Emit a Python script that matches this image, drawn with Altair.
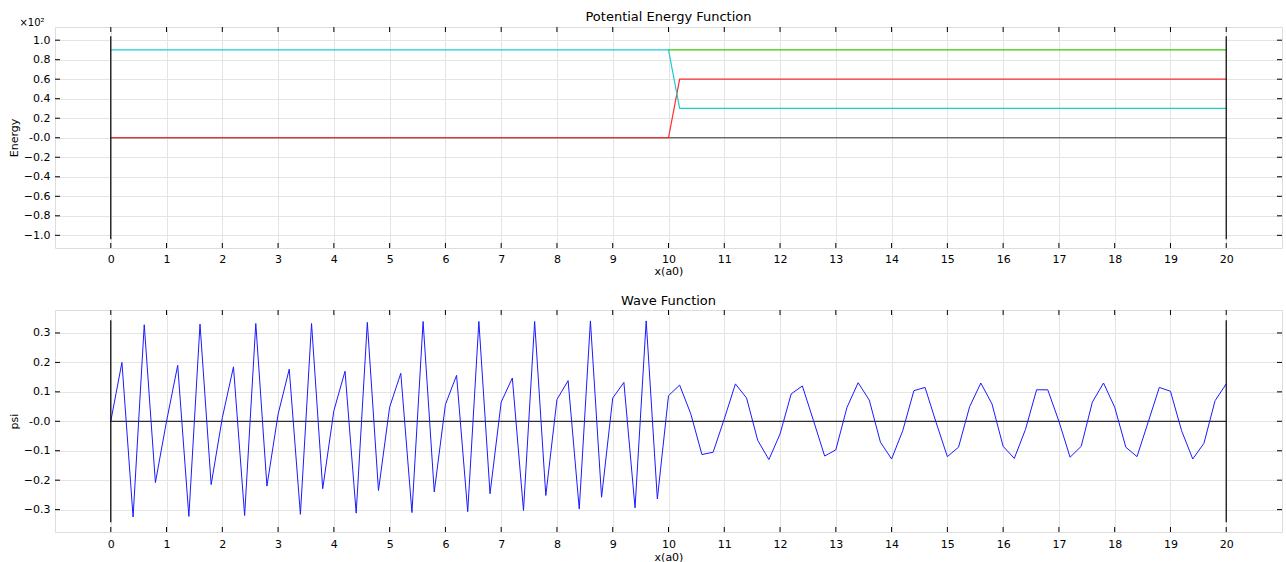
import altair as alt
import pandas as pd

FONT = "DejaVu Sans"
W, H_TOP, H_BOT = 1227, 221, 222

# ---- potential energy curves (energy in units of 10^2) ----
step_x = [0, 10, 10.2, 20]
cyan_e = [0.9, 0.9, 0.3, 0.3]
red_e = [0.0, 0.0, 0.6, 0.6]
green_x = [10, 20]
green_e = [0.9, 0.9]
zero_x = [0, 20]
zero_e = [0.0, 0.0]
wall_x = [0, 20]

# ---- wave function samples ----
psi = [
    0.00, 0.20, -0.325, 0.328, -0.208,
    0.00, 0.19, -0.323, 0.33, -0.215,
    0.012, 0.185, -0.32, 0.332, -0.22,
    0.024, 0.177, -0.316, 0.332, -0.229,
    0.036, 0.17, -0.312, 0.336, -0.235,
    0.048, 0.163, -0.31, 0.339, -0.24,
    0.057, 0.156, -0.307, 0.339, -0.246,
    0.065, 0.147, -0.303, 0.339, -0.252,
    0.074, 0.138, -0.298, 0.341, -0.258,
    0.079, 0.132, -0.294, 0.341, -0.264,
    0.087, 0.123, 0.025, -0.113, -0.105,
    0.008, 0.127, 0.079, -0.065, -0.13,
    -0.043, 0.093, 0.12, 0.002, -0.118,
    -0.097, 0.047, 0.131, 0.072, -0.071,
    -0.128, -0.032, 0.104, 0.115, -0.005,
    -0.12, -0.088, 0.05, 0.13, 0.059,
    -0.085, -0.126, -0.028, 0.107, 0.107,
    0.0, -0.122, -0.085, 0.065, 0.13,
    0.048, -0.088, -0.12, -0.003, 0.115,
    0.102, -0.032, -0.128, -0.075, 0.07,
    0.127,
]
psi_x = [round(0.2 * i, 1) for i in range(len(psi))]

# ---- tick values ----
x_ticks = list(range(0, 21))
e_ticks = [-1.0, -0.8, -0.6, -0.4, -0.2, 0.0, 0.2, 0.4, 0.6, 0.8, 1.0]
psi_ticks = [-0.3, -0.2, -0.1, 0.0, 0.1, 0.2, 0.3]

label_expr = "datum.value == 0 ? '-0.0' : format(datum.value, '.1f')"

x_scale = alt.Scale(domain=[-1, 21], nice=False, zero=False)

AXIS_STYLE = dict(ticks=False, domain=False, gridColor="#e4e4e4",
                  labelFont=FONT, labelFontSize=11, labelColor="black",
                  labelOverlap=False, labelBound=False, labelFlush=False,
                  titleFont=FONT, titleFontSize=11, titleColor="black",
                  titleFontWeight="normal")


def x_axis(label_pad, title_pad):
    return alt.Axis(values=x_ticks, title="x(a0)", format="d",
                    labelPadding=label_pad, titlePadding=title_pad, **AXIS_STYLE)


def y_axis(ticks, title):
    return alt.Axis(values=ticks, title=title, labelExpr=label_expr,
                    labelPadding=5, titlePadding=4, **AXIS_STYLE)


def xs(axis):
    return alt.X("x:Q", scale=x_scale, axis=axis)


def ys(scale, axis):
    return alt.Y("y:Q", scale=scale, axis=axis)


def inward_ticks(h, yticks, yscale, xaxis, yaxis):
    """Short tick marks pointing into the frame on all four sides."""
    xt = pd.DataFrame({"x": x_ticks})
    yt = pd.DataFrame({"y": yticks})
    bottom = alt.Chart(xt).mark_rule(color="black", strokeWidth=1).encode(
        x=xs(xaxis), y=alt.value(h), y2=alt.value(h - 5))
    top = alt.Chart(xt).mark_rule(color="black", strokeWidth=1).encode(
        x=xs(xaxis), y=alt.value(0), y2=alt.value(5))
    left = alt.Chart(yt).mark_rule(color="black", strokeWidth=1).encode(
        y=ys(yscale, yaxis), x=alt.value(0), x2=alt.value(5))
    right = alt.Chart(yt).mark_rule(color="black", strokeWidth=1).encode(
        y=ys(yscale, yaxis), x=alt.value(W), x2=alt.value(W - 5))
    return [bottom, top, left, right]


def panel_title(text, offset):
    return alt.TitleParams(text, offset=offset, frame="group", font=FONT, fontSize=13,
                           fontWeight="normal", color="black", anchor="middle")


# ================= Potential energy panel =================
e_scale = alt.Scale(domain=[-1.13, 1.135], nice=False, zero=False)
E_AXIS = y_axis(e_ticks, "Energy")
X_TOP = x_axis(5, 1)


def pot_line(xv, ev, color):
    df = pd.DataFrame({"x": xv, "y": ev, "i": range(len(xv))})
    return alt.Chart(df).mark_line(color=color, strokeWidth=1.2).encode(
        x=xs(X_TOP), y=ys(e_scale, E_AXIS), order="i:Q")


walls_top = alt.Chart(pd.DataFrame({"x": wall_x, "y": [-1.04] * 2, "y2": [1.04] * 2})).mark_rule(
    color="black", strokeWidth=1.2).encode(x=xs(X_TOP), y=ys(e_scale, E_AXIS), y2="y2:Q")

exp_label = alt.Chart(pd.DataFrame({"t": ["×10²"]})).mark_text(
    font=FONT, fontSize=10, color="black", align="center", baseline="middle").encode(
    x=alt.value(-23), y=alt.value(-4), text="t:N")

top = alt.layer(
    pot_line(zero_x, zero_e, "#333333"),
    pot_line(green_x, green_e, "#33cc00"),
    pot_line(step_x, red_e, "#ff2a2a"),
    pot_line(step_x, cyan_e, "#1ccccc"),
    walls_top,
    *inward_ticks(H_TOP, e_ticks, e_scale, X_TOP, E_AXIS),
    exp_label,
).properties(width=W, height=H_TOP, title=panel_title("Potential Energy Function", -6))

# ================= Wave function panel =================
p_scale = alt.Scale(domain=[-0.376, 0.378], nice=False, zero=False)
P_AXIS = y_axis(psi_ticks, "psi")
X_BOT = x_axis(6, 2)

wave_df = pd.DataFrame({"x": psi_x, "y": psi})
wave = alt.Chart(wave_df).mark_line(color="#1a1aff", strokeWidth=1).encode(
    x=xs(X_BOT), y=ys(p_scale, P_AXIS), order="x:Q")

axis_zero = alt.Chart(pd.DataFrame({"x": zero_x, "y": zero_e})).mark_line(
    color="black", strokeWidth=1).encode(x=xs(X_BOT), y=ys(p_scale, P_AXIS))

walls_bot = alt.Chart(pd.DataFrame({"x": wall_x, "y": [-0.343] * 2, "y2": [0.343] * 2})).mark_rule(
    color="black", strokeWidth=1.2).encode(x=xs(X_BOT), y=ys(p_scale, P_AXIS), y2="y2:Q")

bottom = alt.layer(
    axis_zero,
    wave,
    walls_bot,
    *inward_ticks(H_BOT, psi_ticks, p_scale, X_BOT, P_AXIS),
).properties(width=W, height=H_BOT, title=panel_title("Wave Function", 2))

chart = alt.vconcat(top, bottom, spacing=62, bounds="flush").properties(
    padding={"left": 7, "top": 10, "right": 2, "bottom": 2},
).configure_view(stroke="black", strokeWidth=1).configure(background="white")

chart.save("out.html", embed_options={"renderer": "svg", "actions": False})
